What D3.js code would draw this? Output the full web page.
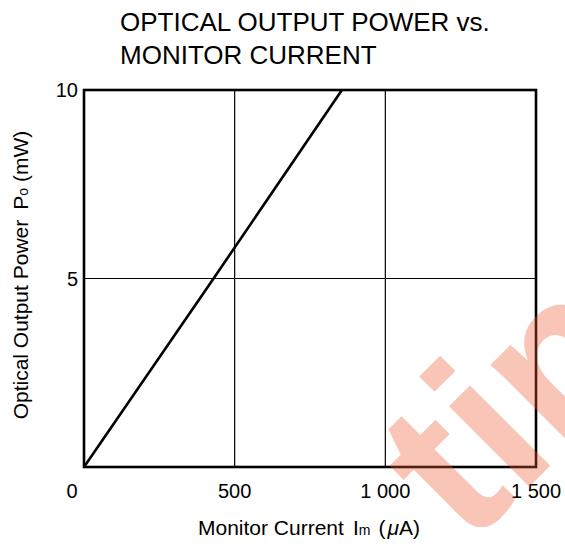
<!DOCTYPE html>
<html><head><meta charset="utf-8">
<script src="https://cdn.jsdelivr.net/npm/d3@7"></script>
<style>
html,body{margin:0;padding:0;background:#fff;}
text{font-family:"Liberation Sans",Arial,sans-serif;fill:#000;}
</style></head>
<body>
<svg id="chart" width="565" height="544"></svg>
<script>
// Data
const monitorCurrent = [0, 430, 856];      // µA
const opticalPower   = [0, 5, 10];         // mW
const xTicks = [0, 500, 1000, 1500];
const xTickLabels = ["0", "500", "1 000", "1 500"];
const yTicks = [5, 10];
const yTickLabels = ["5", "10"];
const titleLines = ["OPTICAL OUTPUT POWER vs.", "MONITOR CURRENT"];

const svg = d3.select("#chart");
const m = {left: 84, right: 536, top: 90, bottom: 467};
const x = d3.scaleLinear().domain([0, 1500]).range([m.left, m.right]);
const y = d3.scaleLinear().domain([0, 10]).range([m.bottom, m.top]);

// title
svg.append("text").attr("x", 120).attr("y", 31).style("font-size", "26px").text(titleLines[0]);
svg.append("text").attr("x", 120).attr("y", 64).style("font-size", "26px").text(titleLines[1]);

// grid
svg.append("g").selectAll("line").data(xTicks.slice(1, -1)).join("line")
  .attr("x1", d => x(d)).attr("x2", d => x(d)).attr("y1", y(0)).attr("y2", y(10))
  .attr("stroke", "#000").attr("stroke-width", 1.2);
svg.append("g").selectAll("line").data(yTicks.slice(0, -1)).join("line")
  .attr("x1", x(0)).attr("x2", x(1500)).attr("y1", d => y(d)).attr("y2", d => y(d))
  .attr("stroke", "#000").attr("stroke-width", 1.2);

// data line
svg.append("path").datum(monitorCurrent.map((d, i) => [d, opticalPower[i]]))
  .attr("fill", "none").attr("stroke", "#000").attr("stroke-width", 2.6)
  .attr("d", d3.line().x(d => x(d[0])).y(d => y(d[1])));

// frame
svg.append("rect").attr("x", x(0)).attr("y", y(10))
  .attr("width", x(1500) - x(0)).attr("height", y(0) - y(10))
  .attr("fill", "none").attr("stroke", "#000").attr("stroke-width", 2.6);

// x tick labels
svg.append("g").selectAll("text").data(xTicks).join("text")
  .attr("x", (d, i) => i === 0 ? x(d) - 12 : x(d))
  .attr("y", 498).attr("text-anchor", "middle").style("font-size", "20px")
  .text((d, i) => xTickLabels[i]);

// y tick labels
svg.append("g").selectAll("text").data(yTicks).join("text")
  .attr("x", x(0) - 6).attr("y", d => y(d) + 7).attr("text-anchor", "end")
  .style("font-size", "20px").text((d, i) => yTickLabels[i]);

// x axis label
const xl = svg.append("text").attr("x", 198).attr("y", 535).style("font-size", "21px");
xl.append("tspan").text("Monitor Current");
xl.append("tspan").attr("dx", 9).text("I");
xl.append("tspan").style("font-size", "14px").text("m");
xl.append("tspan").attr("dx", 8).text("(");
xl.append("tspan").attr("dx", 2).style("font-style", "italic").text("μ");
xl.append("tspan").text("A)");

// y axis label
const yl = svg.append("text").attr("transform", "translate(28,275) rotate(-90)")
  .attr("text-anchor", "middle").style("font-size", "21px");
yl.append("tspan").text("Optical Output Power");
yl.append("tspan").attr("dx", 10).text("P");
yl.append("tspan").style("font-size", "14px").text("o");
yl.append("tspan").attr("dx", 6).text("(mW)");

// watermark
svg.append("text").attr("transform", "translate(468,548) rotate(-45)")
  .style("font-size", "215px").style("font-weight", "bold")
  .style("fill", "rgb(235,90,50)").style("fill-opacity", 0.35)
  .text("tin");
</script>
</body></html>
